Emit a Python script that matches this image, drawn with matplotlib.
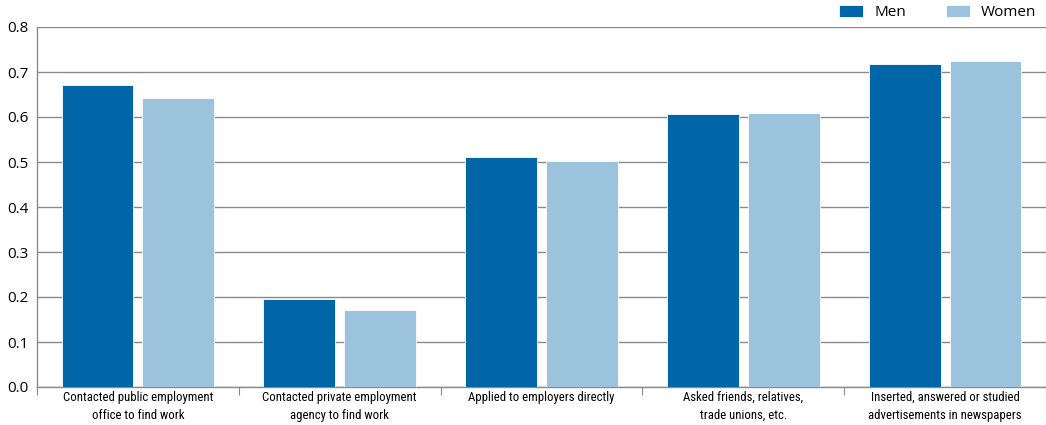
import matplotlib
matplotlib.use("Agg")
import matplotlib.pyplot as plt
import numpy as np
from matplotlib import font_manager

categories = [
    "Contacted public employment\noffice to find work",
    "Contacted private employment\nagency to find work",
    "Applied to employers directly",
    "Asked friends, relatives,\ntrade unions, etc.",
    "Inserted, answered or studied\nadvertisements in newspapers",
]
men = [0.671, 0.195, 0.511, 0.607, 0.718]
women = [0.642, 0.172, 0.502, 0.609, 0.724]
yticks = [0.0, 0.1, 0.2, 0.3, 0.4, 0.5, 0.6, 0.7, 0.8]

names = {f.name for f in font_manager.fontManager.ttflist}
narrow = None
for cand in ["Roboto Condensed", "Liberation Sans Narrow", "Open Sans Condensed", "Roboto"]:
    if cand in names:
        narrow = cand
        break
if narrow is None:
    narrow = "DejaVu Sans"
narrow_size = 9.2 if "Condensed" in narrow or "Narrow" in narrow else 8.5

men_c = "#0066a8"
women_c = "#9cc3dd"
grid_c = "#8a8a8a"

fig = plt.figure(figsize=(10.46, 4.25), dpi=100)
ax = fig.add_axes([37/1046, 1-387/425, 1-37/1046, 360/425])

x = np.arange(len(categories))
w = 0.356
ax.bar(x - 0.2, men, w, color=men_c, label="Men", zorder=3, edgecolor="white", linewidth=0.6)
ax.bar(x + 0.2, women, w, color=women_c, label="Women", zorder=3, edgecolor="white", linewidth=0.6)

ax.set_xlim(-0.5, len(categories) - 0.5)
ax.set_ylim(0, 0.8)
ax.set_yticks(yticks)
ax.set_yticklabels([f"{v:.1f}" for v in yticks], fontsize=11, family="Open Sans")
ax.tick_params(axis="y", length=0, pad=6)
ax.yaxis.grid(True, color=grid_c, linewidth=1, zorder=0)

ax.set_xticks(np.arange(-0.5, len(categories), 1.0))
ax.set_xticklabels([])
ax.tick_params(axis="x", which="major", length=6, color=grid_c, direction="out")
ax.set_xticks(x, minor=True)
ax.set_xticklabels(categories, minor=True, fontsize=narrow_size, family=narrow, linespacing=1.5)
ax.tick_params(axis="x", which="minor", length=0, pad=3)

for s in ["top", "right"]:
    ax.spines[s].set_visible(False)
for s in ["left", "bottom"]:
    ax.spines[s].set_color(grid_c)
    ax.spines[s].set_linewidth(1)

leg = ax.legend(loc="lower right", bbox_to_anchor=(0.997, 1.0), ncol=2, frameon=False,
                handlelength=1.6, handleheight=0.9, columnspacing=2.6, handletextpad=0.7,
                borderaxespad=0.05, prop={"family": "Open Sans", "size": 11})

fig.savefig("out.png", dpi=100)
